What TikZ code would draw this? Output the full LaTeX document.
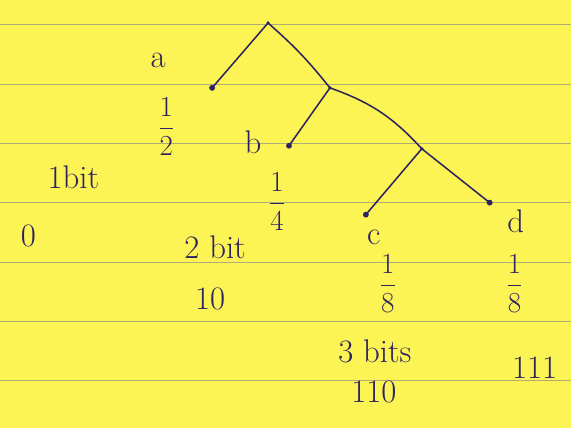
\documentclass[tikz,border=0pt]{standalone}
\usepackage{amsmath}
\usepackage{tikz}
\usetikzlibrary{positioning}
\definecolor{paperyellow}{RGB}{252,243,85}
\definecolor{ruleline}{RGB}{175,172,120}
\definecolor{penink}{RGB}{45,35,95}

\begin{document}
\begin{tikzpicture}[x=0.03cm, y=-0.03cm,
    leaf/.style={circle, fill=penink, inner sep=0pt, minimum size=5pt},
    junc/.style={circle, fill=penink, inner sep=0pt, minimum size=3pt},
    lbl/.style={text=penink, font=\fontsize{28}{30}\selectfont, inner sep=0pt},
    frc/.style={text=penink, font=\fontsize{33}{35}\selectfont, inner sep=0pt},
    branch/.style={draw=penink, line width=1.3pt},
    paperline/.style={draw=ruleline, line width=0.8pt}
]
% paper
\fill[paperyellow] (0,0) rectangle (571,429);
\foreach \y in {25,85,144,203,263,322,381}
  \draw[paperline] (0,\y) -- (571,\y);

% tree
\node[junc] (root) at (268,23) {};
\node[leaf] (a) at (212,88) {};
\node[junc] (n1) at (330,88) {};
\node[leaf] (b) at (289,146) {};
\node[junc] (n2) at (422,149) {};
\node[leaf] (c) at (366,215) {};
\node[leaf] (d) at (490,203) {};

\draw[branch] (root.center) -- (a.center);
\draw[branch] (root.center) to[bend left=5] (n1.center);
\draw[branch] (n1.center) -- (b.center);
\draw[branch] (n1.center) to[bend left=14] (n2.center);
\draw[branch] (n2.center) -- (c.center);
\draw[branch] (n2.center) -- (d.center);

% symbols and probabilities
\node[lbl] (la) at (158,60) {a};
\node[frc] (pa) at (166,127) {$\dfrac{1}{2}$};
\node[lbl] (lb) at (253,142) {b};
\node[frc] (pb) at (277,202) {$\dfrac{1}{4}$};
\node[lbl] (lc) at (374,238) {c};
\node[frc] (pc) at (388,284) {$\dfrac{1}{8}$};
\node[lbl] (ld) at (516,222) {d};
\node[frc] (pd) at (515,284) {$\dfrac{1}{8}$};

% code lengths and codewords
\node[lbl] (len1) at (73,178) {1bit};
\node[lbl] (code1) at (28,236) {0};
\node[lbl] (len2) at (215,248) {2 bit};
\node[lbl] (code2) at (210,299) {10};
\node[lbl] (len3) at (375,352) {3 bits};
\node[lbl] (code3) at (374,393) {110};
\node[lbl] (code4) at (535,368) {111};
\end{tikzpicture}
\end{document}
